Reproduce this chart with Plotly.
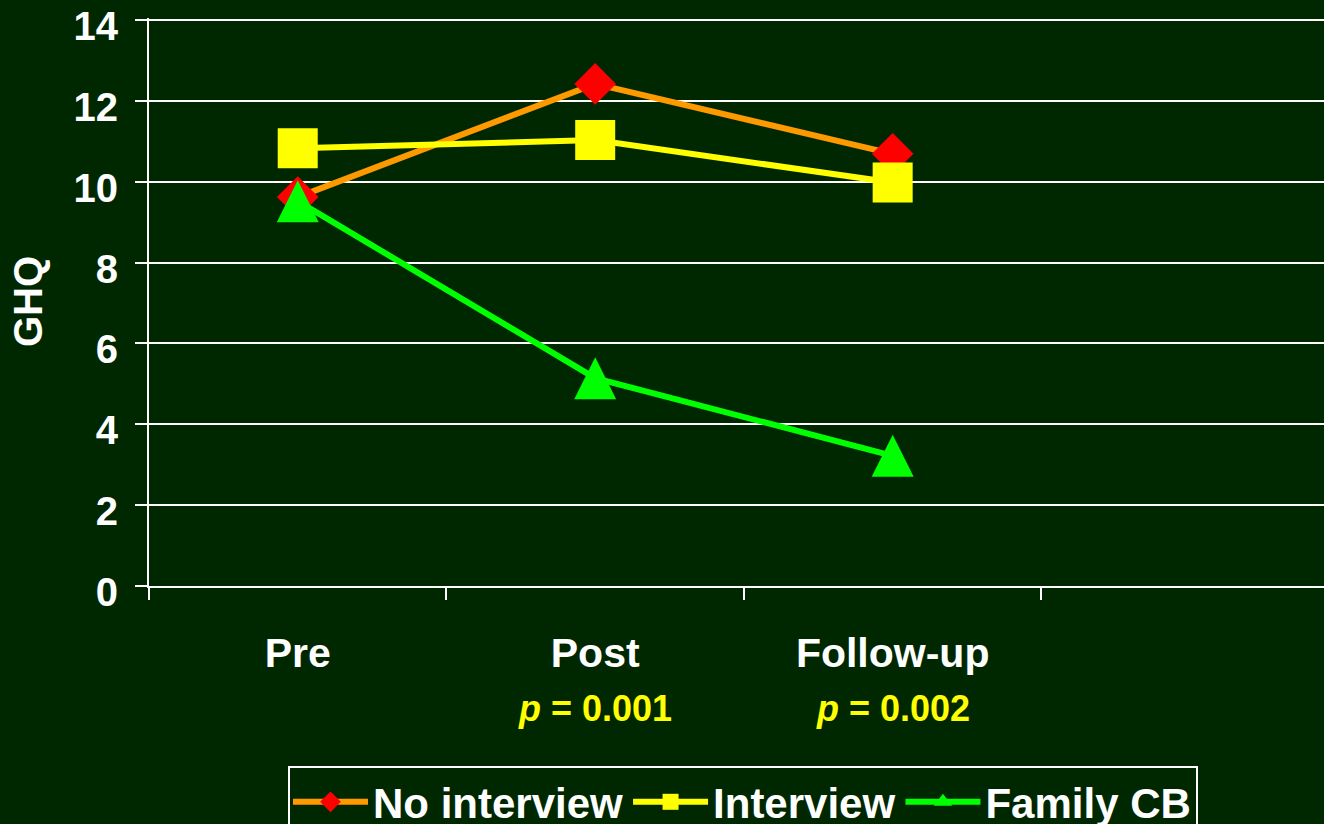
import plotly.graph_objects as go

categories = ["Pre", "Post", "Follow-up"]
no_interview = [9.62, 12.42, 10.69]
interview = [10.83, 11.03, 9.98]
family_cb = [9.52, 5.14, 3.22]
p_labels = {"Post": "0.001", "Follow-up": "0.002"}
y_ticks = [0, 2, 4, 6, 8, 10, 12, 14]

BG = "#002800"
FONT = "Arial, Liberation Sans, sans-serif"

fig = go.Figure()
fig.add_trace(go.Scatter(
    x=categories, y=no_interview, name="No interview", mode="lines+markers",
    line=dict(color="#FF9900", width=6),
    marker=dict(symbol="diamond", size=32, color="#FF0000", line=dict(width=0)),
))
fig.add_trace(go.Scatter(
    x=categories, y=interview, name="Interview", mode="lines+markers",
    line=dict(color="#FFFF00", width=6),
    marker=dict(symbol="square", size=40, color="#FFFF00", line=dict(width=0)),
))
fig.add_trace(go.Scatter(
    x=categories, y=family_cb, name="Family CB", mode="lines+markers",
    line=dict(color="#00FF00", width=6), showlegend=False, legendgroup="fcb",
    marker=dict(symbol="arrow-down", angle=180, standoff=21, size=42,
                color="#00FF00", line=dict(width=0)),
))
# legend entry for Family CB (no data marks)
fig.add_trace(go.Scatter(
    x=[None], y=[None], name="Family CB", mode="lines+markers", legendgroup="fcb",
    line=dict(color="#00FF00", width=6),
    marker=dict(symbol="triangle-up", size=20, color="#00FF00", line=dict(width=0)),
))

for cat, pv in p_labels.items():
    fig.add_annotation(
        x=cat, xref="x", y=-0.2155, yref="paper", yanchor="middle",
        text="<i>p</i> = " + pv, showarrow=False,
        font=dict(family=FONT, size=36, color="#FFFF00", weight="bold"),
    )

fig.add_annotation(
    x=(28 - 149) / 1175, xref="paper", y=0.5, yref="paper",
    text="GHQ", textangle=-90, showarrow=False, xanchor="center", yanchor="middle",
    font=dict(family=FONT, size=40, color="white", weight="bold"),
)

fig.update_layout(
    width=1324, height=824,
    paper_bgcolor=BG, plot_bgcolor=BG,
    margin=dict(l=149, r=0, t=18, b=238, autoexpand=False),
    font=dict(family=FONT, color="white", weight="bold"),
    showlegend=True,
    legend=dict(
        orientation="h", x=(288 - 149) / 1175, xanchor="left",
        y=(586 - 766) / 568, yanchor="top",
        bgcolor=BG, bordercolor="white", borderwidth=2,
        font=dict(family=FONT, size=42, color="white", weight="bold"),
        itemwidth=75, tracegroupgap=0,
    ),
    xaxis=dict(
        type="category", range=[-0.5, 3.45],
        tickson="boundaries", ticks="outside", ticklen=12, tickwidth=2, tickcolor="white",
        showline=True, linecolor="white", linewidth=2, showgrid=False, zeroline=False,
        tickfont=dict(family=FONT, size=41, color="white", weight="bold"),
        ticklabelstandoff=30,
    ),
    yaxis=dict(
        range=[0, 14.05], tickvals=y_ticks,
        ticks="outside", ticklen=12, tickwidth=2, tickcolor="white",
        showline=True, linecolor="white", linewidth=2,
        showgrid=True, gridcolor="white", gridwidth=2, zeroline=False,
        tickfont=dict(family=FONT, size=40, color="white", weight="bold"),
        ticklabelstandoff=9, ticklabeloverflow="allow", ticklabelshift=6,
    ),
)

fig.write_html(
    "out.html",
    config={"displayModeBar": False},
    post_script="document.body.style.margin='0';document.body.style.background='%s';" % BG,
)
